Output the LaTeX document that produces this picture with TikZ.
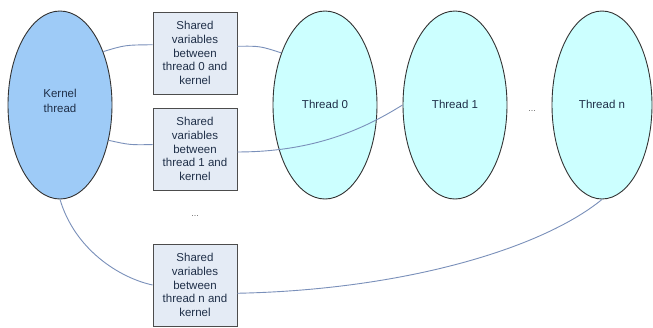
\documentclass[tikz,border=0pt]{standalone}
\usepackage{fontspec}
\setmainfont{Liberation Sans}
\usetikzlibrary{shapes.geometric}
\definecolor{kfill}{HTML}{9ECBF7}
\definecolor{tfill}{HTML}{CCFFFF}
\definecolor{bfill}{HTML}{E4EBF5}
\definecolor{lnk}{HTML}{7A90BA}
\definecolor{txt}{HTML}{1F2F48}
\begin{document}
\begin{tikzpicture}[x=1pt,y=-1pt,
  oval/.style={ellipse,draw=black!80,line width=0.9pt,minimum width=104pt,minimum height=188pt,inner sep=0pt,text=txt,font=\fontsize{11.5}{15}\selectfont,align=center},
  svbox/.style={rectangle,draw=black!70,line width=0.9pt,fill=bfill,minimum width=84pt,minimum height=82pt,inner sep=0pt,align=center,text=txt,font=\fontsize{11.5}{13.7}\selectfont},
  link/.style={draw=lnk,line width=0.9pt},
  dots/.style={text=black!60,font=\fontsize{9}{10}\selectfont,inner sep=0pt}]
\useasboundingbox (0,0) rectangle (653,327);
\fill[white] (0,0) rectangle (653,327);
\node[oval,fill=kfill,label={[text=txt,font=\fontsize{11.5}{15}\selectfont,align=center,yshift=4pt]center:Kernel\\thread}] (kernel) at (60,105) {};
\node[oval,fill=tfill] (t0) at (325,105) {\raisebox{2pt}{Thread 0}};
\node[oval,fill=tfill] (t1) at (455,105) {\raisebox{2pt}{Thread 1}};
\node[oval,fill=tfill,minimum width=100pt] (tn) at (602,105) {\raisebox{2pt}{Thread n}};
\node[svbox] (b0) at (195,53) {Shared\\variables\\between\\thread 0 and\\kernel};
\node[svbox] (b1) at (195,149) {Shared\\variables\\between\\thread 1 and\\kernel};
\node[svbox] (bn) at (195,285) {Shared\\variables\\between\\thread n and\\kernel};
\node[dots] (d1) at (195,216) {...};
\node[dots] (d2) at (532,111) {...};
\path[link] (kernel.51) .. controls (125,45) .. (b0.169);
\path[link] (b0.9) .. controls (260,46) .. (t0.130);
\path[link] (kernel.-36) .. controls (130,145) .. (b1.174);
\path[link] (b1.-4) .. controls (320,152) and (370,125) .. (t1.west);
\path[link] (kernel.south) .. controls (75,250) and (120,278) .. (bn.west);
\path[link] (bn.-11) .. controls (400,290) and (540,250) .. (tn.south);
\end{tikzpicture}
\end{document}
